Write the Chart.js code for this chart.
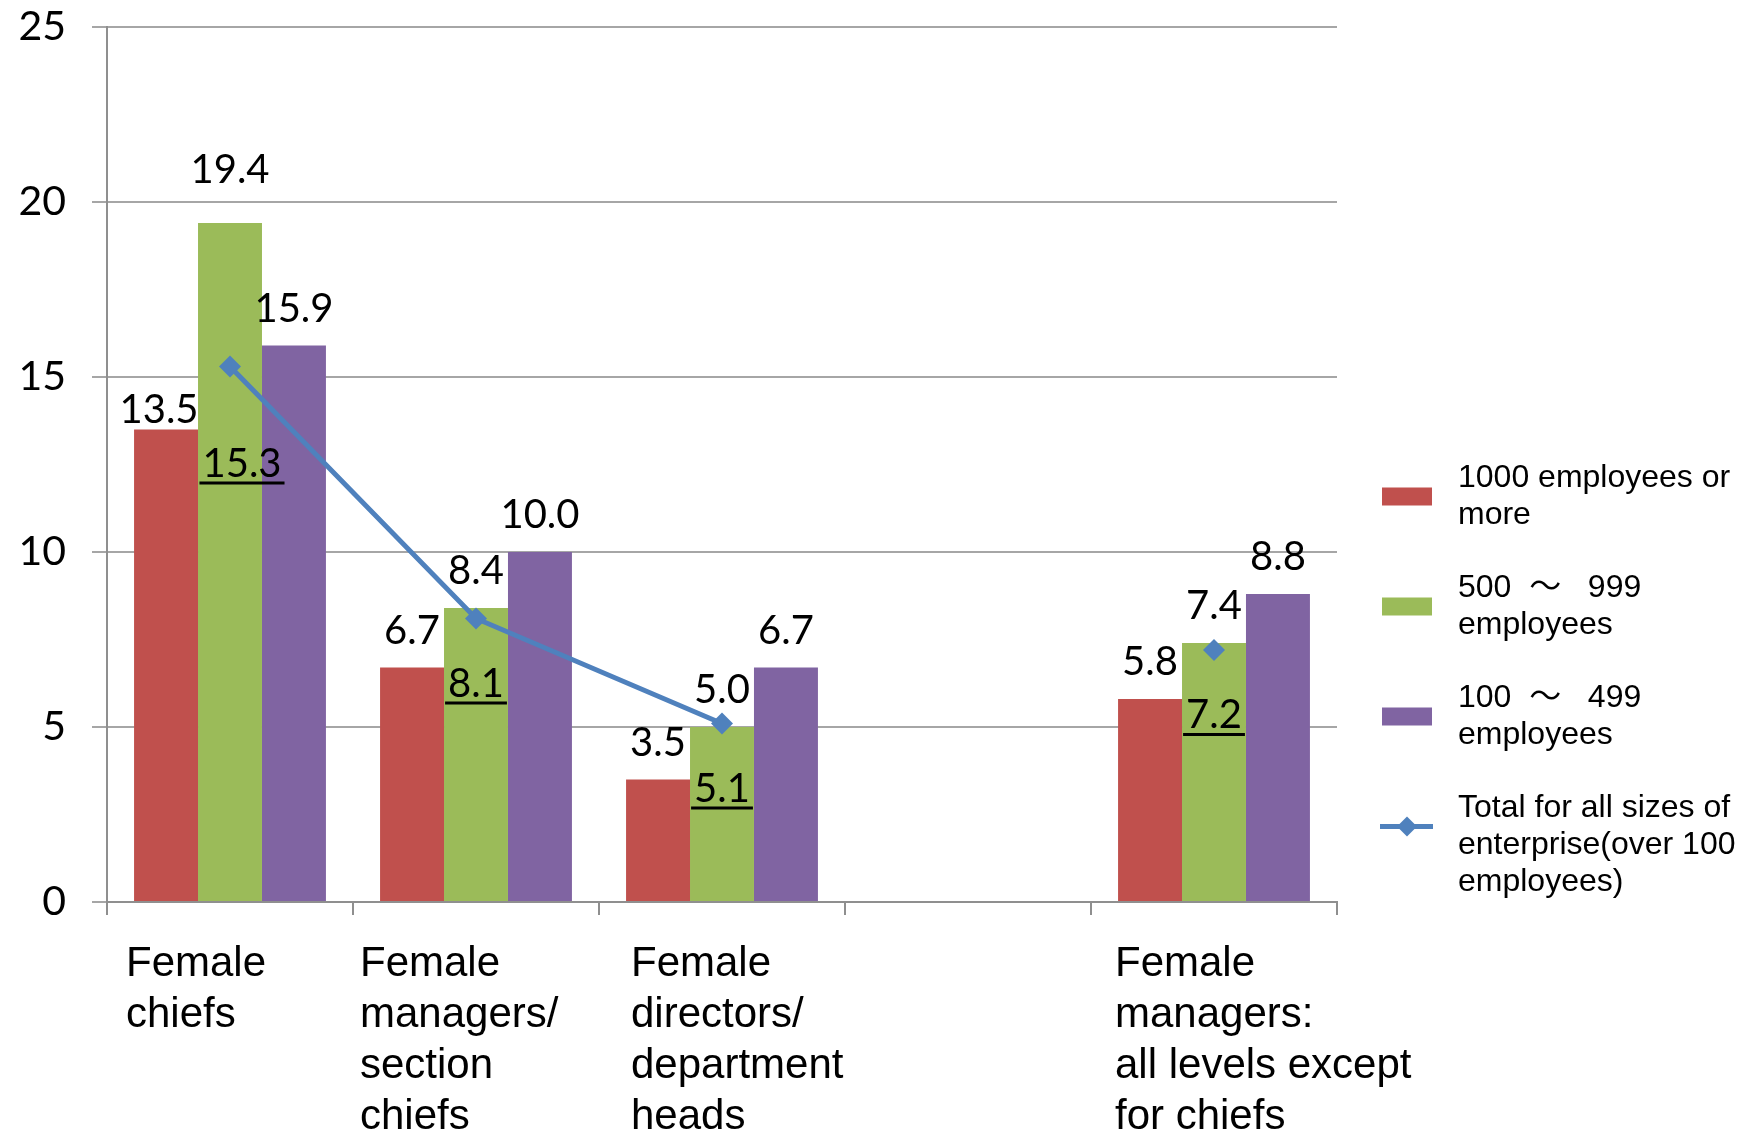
<!DOCTYPE html>
<html>
<head>
<meta charset="utf-8">
<script src="https://cdn.jsdelivr.net/npm/chart.js@4.4.1/dist/chart.umd.min.js"></script>
<style>
  body { margin: 0; background: #fff; }
  #wrap { width: 1751px; height: 1130px; }
</style>
</head>
<body>
<div id="wrap"><canvas id="chart" width="1751" height="1130"></canvas></div>
<script>
// categories (4th slot is empty in the original)
const categories = [
  ['Female', 'chiefs'],
  ['Female', 'managers/', 'section', 'chiefs'],
  ['Female', 'directors/', 'department', 'heads'],
  [],
  ['Female', 'managers:', 'all levels except', 'for chiefs']
];
const seriesNames = [
  ['1000 employees or', 'more'],
  ['500  ～   999', 'employees'],
  ['100  ～   499', 'employees'],
  ['Total for all sizes of', 'enterprise(over 100', 'employees)']
];
const large = [13.5, 6.7, 3.5, null, 5.8];
const medium = [19.4, 8.4, 5.0, null, 7.4];
const small = [15.9, 10.0, 6.7, null, 8.8];
const total = [15.3, 8.1, 5.1, null, 7.2];
const yTicks = [0, 5, 10, 15, 20, 25];

const numFont = '40px Lato, "Open Sans", sans-serif';
const textFont = '"Liberation Sans", Arial, "Noto Sans CJK JP", sans-serif';

// value labels: above the bars, underlined below the line points
// a few labels were dragged by hand in the original, hence the nudges
const valueLabels = {
  id: 'valueLabels',
  afterDatasetsDraw(chart) {
    const ctx = chart.ctx;
    const nudge = { '0-0': [-7, 17], '1-0': [0, -16], '3-0': [12, 32] };
    ctx.save();
    ctx.font = numFont;
    ctx.fillStyle = '#000';
    ctx.textAlign = 'center';
    ctx.textBaseline = 'alphabetic';
    chart.data.datasets.forEach((ds, di) => {
      const meta = chart.getDatasetMeta(di);
      meta.data.forEach((el, i) => {
        const v = ds.data[i];
        if (v == null) return;
        const txt = v.toFixed(1);
        const [dx, dy] = nudge[di + '-' + i] || [0, 0];
        if (ds.type === 'line') {
          const x = el.x + dx;
          const y = el.y + 78 + dy;
          ctx.fillText(txt, x, y);
          const w = ctx.measureText(txt).width;
          ctx.fillRect(x - w / 2 - 3, y + 5, w + 6, 3);
        } else {
          ctx.fillText(txt, el.x + dx, el.y - 24 + dy);
        }
      });
    });
    ctx.restore();
  }
};

// multi-line category labels, left aligned in each slot (text boxes were nudged by hand)
const categoryLabels = {
  id: 'categoryLabels',
  afterDraw(chart) {
    const {ctx, scales: {x}, chartArea} = chart;
    const slot = x.width / categories.length;
    const nudge = [19, 7, 32, 0, 24];
    ctx.save();
    ctx.font = '42px ' + textFont;
    ctx.fillStyle = '#000';
    ctx.textAlign = 'left';
    ctx.textBaseline = 'alphabetic';
    categories.forEach((lines, i) => {
      const left = x.getPixelForValue(i) - slot / 2 + nudge[i];
      lines.forEach((t, j) => ctx.fillText(t, left, chartArea.bottom + 74 + j * 51));
    });
    ctx.restore();
  }
};

// legend on the right, text wrapped like the original
const sideLegend = {
  id: 'sideLegend',
  afterDraw(chart) {
    const {ctx, chartArea} = chart;
    const sx = chartArea.right + 45;
    const tx = chartArea.right + 121;
    const lineH = 37;
    let y = 478;
    ctx.save();
    ctx.font = '32px ' + textFont;
    ctx.textBaseline = 'middle';
    ctx.textAlign = 'left';
    chart.data.datasets.forEach((ds, di) => {
      const lines = seriesNames[di];
      const cy = y + lineH / 2;
      if (ds.type === 'line') {
        ctx.strokeStyle = ds.borderColor;
        ctx.lineWidth = 5;
        ctx.beginPath();
        ctx.moveTo(sx - 2, cy);
        ctx.lineTo(sx + 51, cy);
        ctx.stroke();
        ctx.fillStyle = ds.borderColor;
        ctx.beginPath();
        ctx.moveTo(sx + 25, cy - 10);
        ctx.lineTo(sx + 35, cy);
        ctx.lineTo(sx + 25, cy + 10);
        ctx.lineTo(sx + 15, cy);
        ctx.closePath();
        ctx.fill();
      } else {
        ctx.fillStyle = ds.backgroundColor;
        ctx.fillRect(sx, cy - 9, 50, 18);
      }
      ctx.fillStyle = '#000';
      lines.forEach((t, j) => ctx.fillText(t, tx, y + j * lineH));
      y += (lines.length - 1) * lineH + 73;
    });
    ctx.restore();
  }
};

new Chart(document.getElementById('chart'), {
  type: 'bar',
  data: {
    labels: categories.map(c => c.join(' ')),
    datasets: [
      { label: seriesNames[0].join(' '), data: large, backgroundColor: '#C0504D', order: 1 },
      { label: seriesNames[1].join(' '), data: medium, backgroundColor: '#9BBB59', order: 1 },
      { label: seriesNames[2].join(' '), data: small, backgroundColor: '#8064A2', order: 1 },
      {
        type: 'line', label: seriesNames[3].join(' '), data: total, order: 0,
        borderColor: '#4F81BD', backgroundColor: '#4F81BD', borderWidth: 5,
        pointStyle: 'rectRot', pointRadius: 11, pointBorderWidth: 0,
        spanGaps: false, tension: 0
      }
    ]
  },
  options: {
    responsive: false,
    animation: false,
    categoryPercentage: 0.78,
    barPercentage: 1,
    layout: { padding: { top: 27, right: 414, left: 0, bottom: 0 } },
    plugins: { legend: { display: false }, tooltip: { enabled: false } },
    scales: {
      x: {
        offset: true,
        ticks: { display: false },
        grid: { offset: true, drawOnChartArea: false, drawTicks: true, tickLength: 13, color: '#8f8f8f', lineWidth: 2 },
        border: { display: true, color: '#8f8f8f', width: 2 },
        afterFit(s) { s.height = 228; s.paddingLeft = 0; s.paddingRight = 0; }
      },
      y: {
        min: 0, max: 25,
        afterBuildTicks(s) { s.ticks = yTicks.map(v => ({ value: v })); },
        ticks: { font: { family: 'Lato, "Open Sans", sans-serif', size: 41 }, color: '#000', padding: 26 },
        grid: { color: '#a6a6a6', lineWidth: 2, tickLength: 15 },
        border: { display: true, color: '#8f8f8f', width: 2 },
        afterFit(s) { s.width = 107; s.paddingTop = 0; s.paddingBottom = 0; }
      }
    }
  },
  plugins: [valueLabels, categoryLabels, sideLegend]
});
</script>
</body>
</html>
